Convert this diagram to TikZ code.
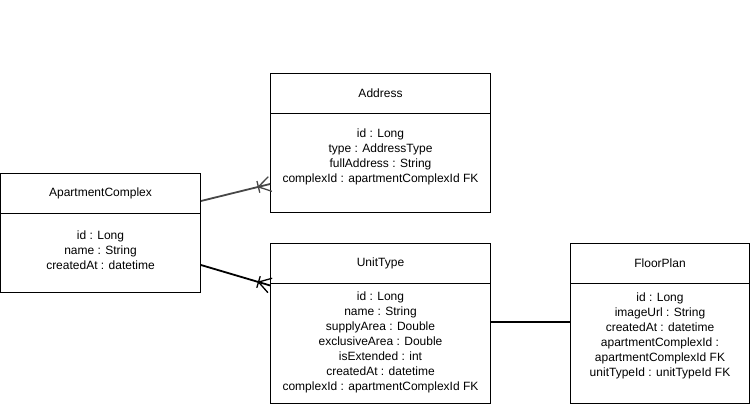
\documentclass[tikz,border=0pt]{standalone}
\usepackage{fontspec}
\setmainfont{Liberation Sans}
\usetikzlibrary{decorations.markings}
\begin{document}
\begin{tikzpicture}[x=1pt,y=1pt,
  every node/.style={font=\fontsize{12}{15}\selectfont},
  hdr/.style={draw=black, line width=0.9pt, rectangle, inner sep=0pt, minimum height=40pt},
  bodybox/.style={draw=black, line width=0.9pt, rectangle, inner sep=0pt},
  txt/.style={align=center, inner sep=0pt},
  crow/.style={postaction={decorate, decoration={markings, mark=at position 1 with {
      \draw[line width=1.3pt] (-12,0) -- (0,7.5);
      \draw[line width=1.3pt] (-12,0) -- (0,-7.5);
      \draw[line width=1.3pt] (-12,6) -- (-12,-6);}}}},
  conn/.style={line width=1.8pt}
]
\useasboundingbox (0,0) rectangle (751,-404);

% ApartmentComplex
\node[hdr, minimum width=200pt] (ach) at (100.5,-193) {ApartmentComplex};
\node[bodybox, minimum width=200pt, minimum height=79pt] (acb) at (100.5,-252.5) {};
\node[txt] (act) at (100.5,-250) {id : Long\\name : String\\createdAt : datetime};

% Address
\node[hdr, minimum width=220pt] (adh) at (380.5,-93) {Address};
\node[bodybox, minimum width=220pt, minimum height=99pt] (adb) at (380.5,-162.5) {};
\node[txt] (adt) at (380.5,-157) {id : Long\\type : AddressType\\fullAddress : String\\complexId : apartmentComplexId FK};

% UnitType
\node[hdr, minimum width=220pt] (uth) at (380.5,-263) {UnitType};
\node[bodybox, minimum width=220pt, minimum height=120pt] (utb) at (380.5,-343) {};
\node[txt] (utt) at (380.5,-342.5) {id : Long\\name : String\\supplyArea : Double\\exclusiveArea : Double\\isExtended : int\\createdAt : datetime\\complexId : apartmentComplexId FK};

% FloorPlan
\node[hdr, minimum width=179pt] (fph) at (660,-263) {FloorPlan};
\node[bodybox, minimum width=179pt, minimum height=120pt] (fpb) at (660,-343) {};
\node[txt] (fpt) at (660,-335.5) {id : Long\\imageUrl : String\\createdAt : datetime\\apartmentComplexId :\\apartmentComplexId FK\\unitTypeId : unitTypeId FK};

% connectors
\draw[conn, draw=black!72, crow] ([yshift=-8pt]ach.east) -- ([yshift=-21.5pt]adb.west);
\draw[conn, draw=black, crow] ([yshift=-12.5pt]acb.east) -- ([yshift=-2pt]uth.south west);
\draw[conn, draw=black] ([yshift=21pt]utb.east) -- ([yshift=21pt]fpb.west);
\end{tikzpicture}
\end{document}
